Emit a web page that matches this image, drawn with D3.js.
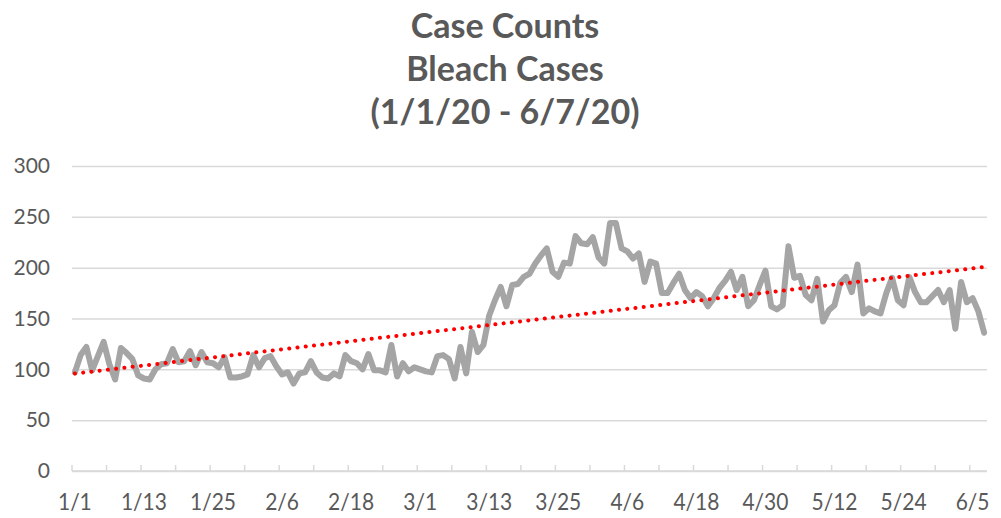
<!DOCTYPE html>
<html>
<head>
<meta charset="utf-8">
<script src="https://cdn.jsdelivr.net/npm/d3@7"></script>
<style>
  body { margin: 0; background: #fff; }
  svg { display: block; }
  text { font-family: Lato, "Open Sans", sans-serif; fill: #595959; }
</style>
</head>
<body>
<div id="chart"></div>
<script>
// chart data
var titleLines = ["Case Counts", "Bleach Cases", "(1/1/20 - 6/7/20)"];
var startDate = new Date(2020, 0, 1);
var endDate = new Date(2020, 5, 8);   // day after last point (6/7)
// daily counts, 1/1 .. 6/7
var counts = [
  97, 114, 122, 99, 113, 127, 105, 90, 121, 116,
  110, 94, 91, 90, 100, 105, 106, 120, 107, 108,
  118, 104, 117, 107, 106, 102, 112, 92, 92, 93,
  95, 114, 102, 111, 113, 103, 95, 97, 86, 96,
  97, 108, 97, 92, 91, 96, 93, 114, 108, 106,
  100, 115, 99, 99, 97, 124, 93, 106, 98, 102,
  100, 98, 97, 113, 114, 110, 91, 122, 96, 137,
  117, 124, 153, 168, 181, 162, 183, 184, 191, 194,
  204, 212, 219, 196, 191, 205, 204, 231, 224, 223,
  230, 210, 204, 244, 244, 219, 216, 209, 214, 186,
  206, 204, 175, 175, 185, 194, 178, 170, 176, 172,
  162, 170, 180, 187, 196, 178, 191, 162, 168, 183,
  197, 162, 159, 163, 221, 190, 192, 173, 168, 189,
  147, 158, 163, 185, 191, 176, 203, 155, 160, 157,
  155, 175, 190, 168, 163, 191, 176, 166, 166, 172,
  178, 166, 178, 140, 186, 166, 170, 157, 136
];
var yTicks = [0, 50, 100, 150, 200, 250, 300];
var labelStep = 12;   // days between date labels
var tickStep = 6;     // days between tick marks

var width = 1001, height = 518;
var margin = {top: 166, right: 14, bottom: 47, left: 72};
var plotW = width - margin.left - margin.right;
var plotH = height - margin.top - margin.bottom;

var svg = d3.select("#chart").append("svg")
    .attr("width", width)
    .attr("height", height);

// title
svg.append("g").selectAll("text")
    .data(titleLines)
    .enter()
    .append("text")
    .attr("x", 505)
    .attr("y", function(d, i){ return 38 + i * 43; })
    .attr("text-anchor", "middle")
    .style("font-size", "34px")
    .style("font-weight", "bold")
    .text(function(d){ return d; });

var g = svg.append("g")
    .attr("transform", "translate(" + margin.left + "," + margin.top + ")");

var data = counts.map(function(v, i){
  return {date: d3.timeDay.offset(startDate, i), value: v};
});

var x = d3.scaleTime().domain([startDate, endDate]).range([0, plotW]);
var y = d3.scaleLinear().domain([0, 300]).range([plotH, 0]);

// midpoint of a day on the date axis
function xMid(date){
  return x(d3.timeHour.offset(date, 12));
}

// gridlines + y labels
var yAxis = g.append("g")
    .call(d3.axisLeft(y).tickValues(yTicks).tickSize(-plotW).tickPadding(22));
yAxis.select(".domain").remove();
yAxis.selectAll(".tick line")
    .attr("stroke", "#d9d9d9")
    .attr("stroke-width", 1.5);
yAxis.selectAll(".tick text")
    .style("font-size", "21px")
    .style("font-family", "Lato, sans-serif")
    .attr("fill", "#595959");

// x axis line with inside tick marks
var tickDates = d3.timeDay.range(startDate, endDate, tickStep);
var xTicks = g.append("g")
    .attr("transform", "translate(0," + plotH + ")");
xTicks.append("line")
    .attr("x1", 0).attr("x2", plotW)
    .attr("stroke", "#d9d9d9").attr("stroke-width", 1.5);
xTicks.selectAll(".xtick")
    .data(tickDates)
    .enter()
    .append("line")
    .attr("class", "xtick")
    .attr("x1", function(d){ return x(d); })
    .attr("x2", function(d){ return x(d); })
    .attr("y1", 0).attr("y2", -6)
    .attr("stroke", "#d9d9d9").attr("stroke-width", 1.5);

// date labels
var labelDates = d3.timeDay.range(startDate, endDate, labelStep);
var fmt = d3.timeFormat("%-m/%-d");
g.append("g")
    .attr("transform", "translate(0," + plotH + ")")
    .selectAll("text")
    .data(labelDates)
    .enter()
    .append("text")
    .attr("transform", function(d){
      return "translate(" + xMid(d) + ",39) scale(1,1.08)";
    })
    .attr("text-anchor", "middle")
    .style("font-size", "21px")
    .text(function(d){ return fmt(d); });

// count line
var line = d3.line()
    .x(function(d){ return xMid(d.date); })
    .y(function(d){ return y(d.value); });

g.append("path")
    .datum(data)
    .attr("fill", "none")
    .attr("stroke", "#a5a5a5")
    .attr("stroke-width", 6)
    .attr("stroke-linejoin", "round")
    .attr("stroke-linecap", "round")
    .attr("d", line);

// linear trendline (least squares on day index)
var n = counts.length;
var meanX = d3.mean(counts, function(v, i){ return i; });
var meanY = d3.mean(counts);
var sxy = d3.sum(counts, function(v, i){ return (i - meanX) * (v - meanY); });
var sxx = d3.sum(counts, function(v, i){ return (i - meanX) * (i - meanX); });
var slope = sxy / sxx;
var intercept = meanY - slope * meanX;
var trend = [0, n - 1].map(function(i){
  return {date: d3.timeDay.offset(startDate, i), value: intercept + slope * i};
});

g.append("path")
    .datum(trend)
    .attr("fill", "none")
    .attr("stroke", "#ff0000")
    .attr("stroke-width", 4)
    .attr("stroke-linecap", "round")
    .attr("stroke-dasharray", "0.1,8.2")
    .attr("d", line);
</script>
</body>
</html>
